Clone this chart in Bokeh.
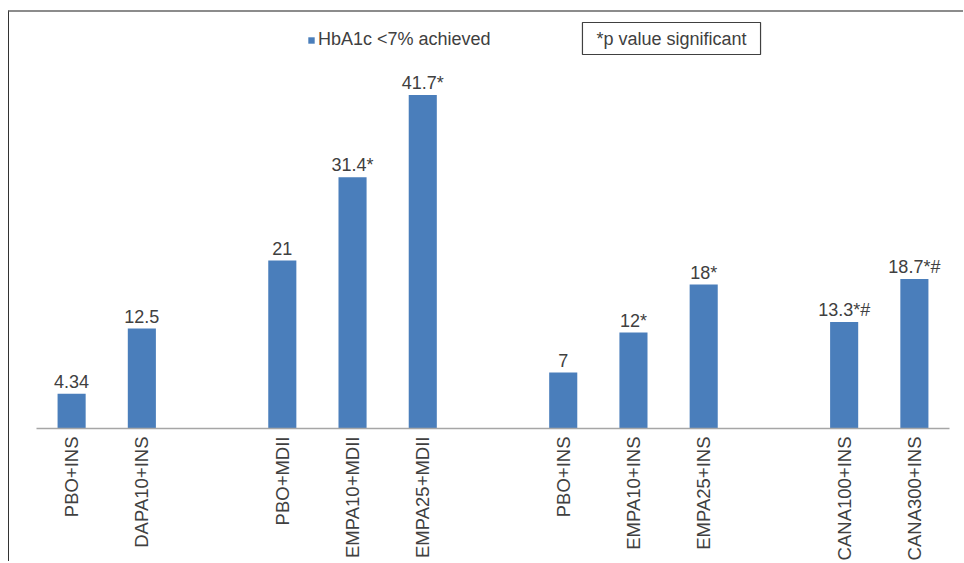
import math
from bokeh.plotting import figure
from bokeh.models import (ColumnDataSource, Range1d, FixedTicker, Legend, LegendItem, Label)
from bokeh.core.properties import value
from bokeh.embed import file_html
from bokeh.resources import INLINE

categories = ["PBO+INS", "DAPA10+INS", "PBO+MDII", "EMPA10+MDII", "EMPA25+MDII",
              "PBO+INS", "EMPA10+INS", "EMPA25+INS", "CANA100+INS", "CANA300+INS"]
groups = [0, 0, 1, 1, 1, 2, 2, 2, 3, 3]
values = [4.34, 12.5, 21, 31.4, 41.7, 7, 12, 18, 13.3, 18.7]
value_labels = ["4.34", "12.5", "21", "31.4*", "41.7*", "7", "12*", "18*", "13.3*#", "18.7*#"]
series_name = "HbA1c <7% achieved"
note_text = "*p value significant"

xs = [i + g for i, g in enumerate(groups)]
src = ColumnDataSource(dict(x=xs, top=values, lab=value_labels))

FONT = "Liberation Sans"
TXT = "#404040"
BLUE = "#4A7EBB"

p = figure(width=955, height=551, output_backend="svg", toolbar_location=None,
           x_range=Range1d(-0.5, 12.5), y_range=Range1d(0, 52.0),
           y_axis_location=None, min_border_left=27, min_border_right=15,
           min_border_top=0, min_border_bottom=135)
p.styles = {"margin-left": "8px", "margin-top": "10px",
            "border-left": "1px solid #333333", "border-top": "2px solid #8c8c8c"}
p.outline_line_color = None
p.xgrid.grid_line_color = None
p.ygrid.grid_line_color = None

bars = p.vbar(x="x", top="top", bottom=0, width=0.4, source=src,
              fill_color=BLUE, line_color=None)
p.text(x="x", y="top", text="lab", source=src, text_align="center",
       text_baseline="alphabetic", y_offset=-12, text_font=value(FONT),
       text_font_size="18px", text_color=TXT)

ax = p.xaxis[0]
ax.ticker = FixedTicker(ticks=xs)
ax.major_label_overrides = {x: c for x, c in zip(xs, categories)}
ax.major_label_orientation = math.pi / 2
ax.major_tick_line_color = None
ax.minor_tick_line_color = None
ax.major_tick_out = 0
ax.major_tick_in = 0
ax.major_label_standoff = 8
ax.major_label_text_font = FONT
ax.major_label_text_font_size = "18.5px"
ax.major_label_text_color = TXT
ax.axis_line_color = "#A6A6A6"
ax.axis_line_width = 1.5

legend = Legend(items=[LegendItem(label=series_name, renderers=[bars])],
                location=(271, 378), orientation="horizontal",
                glyph_width=8, glyph_height=8, label_standoff=3,
                padding=0, margin=0, spacing=0,
                label_text_font=FONT, label_text_font_size="18px",
                label_text_color=TXT, border_line_color=None,
                background_fill_alpha=0)
p.add_layout(legend, "center")

note = Label(x=635, y=390, x_units="screen", y_units="screen", text=note_text,
             text_align="center", text_baseline="middle", text_font=FONT,
             text_font_size="18px", text_color=TXT,
             border_line_color="#404040", border_line_width=1.2,
             background_fill_color="white", padding=(14, 14, 6, 6))
p.add_layout(note)

open("out.html", "w").write(file_html(p, INLINE))
